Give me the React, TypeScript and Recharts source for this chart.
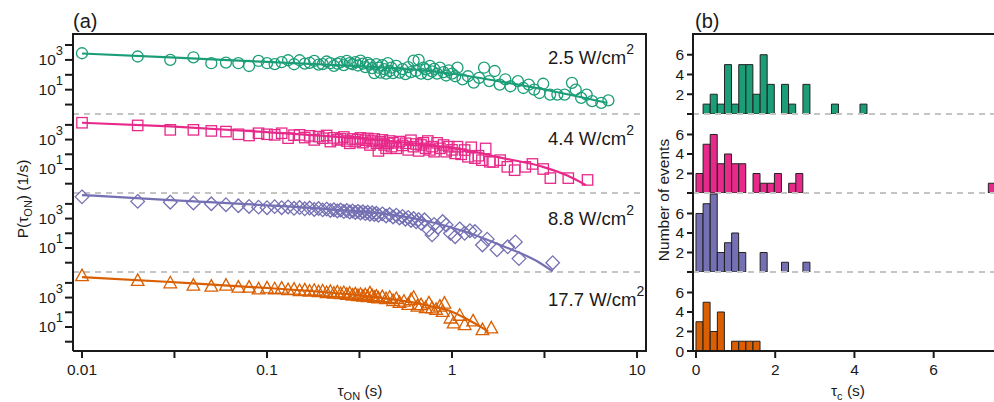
import React from "react";
import {
  ComposedChart,
  Scatter,
  Line,
  Bar,
  XAxis,
  YAxis,
  ReferenceLine,
} from "recharts";

const FONT = "'Liberation Sans', Arial, Helvetica, sans-serif";
const INK = "#1a1a1a";
const DASH = "#c4c4c4";

const COLORS = ["#1b9e77", "#e7298a", "#7570b3", "#d95f02"];
const POWERS = ["2.5", "4.4", "8.8", "17.7"];

// (a) ON-time distributions: [tau_on (s), P (1/s)]
const ON_25: [number, number][] = [
  [0.01, 2800], [0.02, 1700], [0.03, 1000], [0.04, 1500], [0.05, 600], [0.06, 660], [0.07, 600],
  [0.08, 390], [0.09, 850], [0.1, 600], [0.11, 520], [0.12, 700], [0.13, 950], [0.14, 510],
  [0.15, 950], [0.16, 560], [0.17, 640], [0.18, 850], [0.19, 480], [0.2, 520], [0.21, 780],
  [0.22, 600], [0.23, 400], [0.24, 560], [0.25, 700], [0.26, 450], [0.27, 860], [0.28, 600],
  [0.29, 510], [0.3, 700], [0.31, 420], [0.32, 900], [0.33, 560], [0.34, 330], [0.35, 640],
  [0.36, 480], [0.37, 280], [0.38, 130], [0.39, 520], [0.4, 300], [0.41, 140], [0.42, 440],
  [0.43, 240], [0.44, 120], [0.45, 600], [0.46, 180], [0.47, 300], [0.48, 130], [0.5, 400],
  [0.52, 140], [0.54, 240], [0.56, 110], [0.58, 330], [0.6, 150], [0.62, 900], [0.64, 180],
  [0.66, 1000], [0.68, 120], [0.7, 300], [0.72, 230], [0.74, 110], [0.76, 400], [0.78, 170],
  [0.8, 250], [0.83, 120], [0.86, 300], [0.9, 150], [0.93, 90], [0.96, 200], [1.0, 120],
  [1.04, 80], [1.07, 300], [1.14, 50], [1.22, 80], [1.31, 30], [1.4, 62], [1.49, 300],
  [1.59, 38], [1.7, 180], [1.81, 22], [1.94, 50], [2.07, 17], [2.27, 38], [2.43, 13],
  [2.6, 22], [2.78, 10], [2.97, 6], [3.11, 25], [3.39, 4.7], [3.71, 4.7], [4.06, 4.7],
  [4.45, 29], [4.66, 10], [4.99, 2.8], [5.34, 4.7], [5.72, 1.7], [6.41, 1.3], [7.0, 1.9],
];
const FIT_25: [number, number][] = [
  [0.01, 2700], [0.03, 1500], [0.1, 730], [0.3, 390], [0.6, 230], [1.0, 118], [2.0, 29],
  [3.0, 11.5], [5.0, 3.1], [6.9, 1.3],
];

const ON_44: [number, number][] = [
  [0.01, 14000], [0.02, 9200], [0.03, 4600], [0.04, 4600], [0.05, 3900], [0.06, 3500],
  [0.07, 2300], [0.08, 1900], [0.09, 2700], [0.1, 2300], [0.11, 2100], [0.12, 2700],
  [0.13, 1250], [0.14, 2000], [0.15, 2100], [0.16, 1370], [0.17, 1800], [0.18, 950],
  [0.19, 1600], [0.2, 1240], [0.21, 1900], [0.22, 730], [0.23, 1300], [0.24, 950],
  [0.25, 1110], [0.26, 1500], [0.27, 800], [0.28, 560], [0.29, 1100], [0.3, 730],
  [0.31, 1000], [0.32, 1300], [0.33, 620], [0.34, 900], [0.35, 1200], [0.36, 430],
  [0.37, 800], [0.38, 1100], [0.39, 560], [0.4, 170], [0.41, 700], [0.42, 950], [0.43, 430],
  [0.44, 255], [0.45, 560], [0.46, 800], [0.47, 330], [0.48, 600], [0.5, 255], [0.52, 730],
  [0.54, 400], [0.56, 560], [0.58, 200], [0.6, 900], [0.62, 330], [0.64, 500], [0.66, 170],
  [0.68, 430], [0.7, 600], [0.72, 255], [0.74, 800], [0.76, 200], [0.78, 330], [0.8, 150],
  [0.83, 600], [0.86, 255], [0.9, 430], [0.93, 150], [0.96, 330], [1.0, 200], [1.04, 115],
  [1.07, 330], [1.12, 100], [1.17, 195], [1.22, 68], [1.27, 300], [1.33, 55], [1.39, 80],
  [1.45, 40], [1.52, 250], [1.6, 31], [1.67, 30], [1.82, 40], [1.99, 14], [2.18, 8.3],
  [2.49, 14], [2.72, 22], [3.11, 10], [3.4, 2.4], [4.25, 2.4], [5.4, 1.8],
];
const FIT_44: [number, number][] = [
  [0.01, 14000], [0.03, 7800], [0.1, 3200], [0.3, 1250], [0.75, 430], [1.3, 160], [1.8, 62],
  [3.1, 14], [4.2, 3.6], [5.3, 0.8],
];

const ON_88: [number, number][] = [
  [0.01, 30000], [0.02, 14800], [0.03, 13000], [0.04, 11500], [0.05, 10200], [0.06, 8800],
  [0.07, 7500], [0.08, 6700], [0.09, 6000], [0.1, 5500], [0.11, 6500], [0.12, 5500],
  [0.13, 6200], [0.14, 5000], [0.15, 5600], [0.16, 4600], [0.17, 5200], [0.18, 4200],
  [0.19, 4800], [0.2, 3900], [0.21, 4400], [0.22, 3600], [0.23, 4000], [0.24, 3300],
  [0.25, 3800], [0.26, 3000], [0.27, 3500], [0.28, 2800], [0.29, 3300], [0.3, 2600],
  [0.31, 3100], [0.32, 2400], [0.33, 2900], [0.34, 2200], [0.35, 2700], [0.36, 2000],
  [0.37, 2500], [0.38, 1900], [0.39, 2300], [0.4, 1700], [0.42, 2100], [0.44, 1500],
  [0.46, 1900], [0.48, 1300], [0.5, 1700], [0.52, 1100], [0.54, 1400], [0.56, 900],
  [0.58, 1200], [0.6, 750], [0.62, 1000], [0.64, 600], [0.66, 850], [0.68, 480], [0.71, 830],
  [0.75, 170], [0.78, 78], [0.8, 400], [0.84, 250], [0.89, 630], [0.93, 370], [0.98, 100],
  [1.04, 59], [1.1, 200], [1.17, 100], [1.25, 150], [1.33, 131], [1.46, 16], [1.55, 40],
  [1.75, 7.5], [2.0, 12], [2.2, 26], [2.3, 1.9], [3.5, 1.0],
];
const FIT_88: [number, number][] = [
  [0.01, 40000], [0.03, 18000], [0.1, 8000], [0.3, 3100], [0.48, 1800], [0.75, 630],
  [1.17, 131], [1.82, 16], [2.9, 1.2], [3.5, 0.26],
];

const ON_177: [number, number][] = [
  [0.01, 30000], [0.02, 14000], [0.03, 9700], [0.04, 6700], [0.05, 5800], [0.06, 6700],
  [0.07, 4900], [0.08, 4900], [0.09, 3700], [0.1, 4400], [0.11, 3800], [0.12, 4200],
  [0.13, 3300], [0.14, 3600], [0.15, 2900], [0.16, 3200], [0.17, 2600], [0.18, 3000],
  [0.19, 2400], [0.2, 2700], [0.21, 2100], [0.22, 2500], [0.23, 1900], [0.24, 2300],
  [0.25, 1800], [0.26, 2100], [0.27, 1600], [0.28, 1900], [0.29, 1400], [0.3, 1700],
  [0.31, 1300], [0.32, 1600], [0.33, 1200], [0.34, 1500], [0.35, 1100], [0.36, 2000],
  [0.37, 1300], [0.38, 1000], [0.39, 1200], [0.4, 900], [0.42, 1100], [0.44, 800],
  [0.46, 1000], [0.48, 600], [0.5, 830], [0.52, 450], [0.55, 540], [0.58, 330], [0.6, 700],
  [0.62, 1000], [0.65, 250], [0.68, 320], [0.72, 200], [0.75, 420], [0.78, 190], [0.82, 150],
  [0.86, 250], [0.89, 110], [0.91, 400], [0.98, 39], [1.02, 18], [1.1, 60], [1.17, 14],
  [1.3, 25], [1.46, 6.3], [1.63, 8.3],
];
const FIT_177: [number, number][] = [
  [0.01, 25000], [0.03, 11500], [0.1, 4500], [0.3, 1520], [0.5, 700], [0.75, 280],
  [1.0, 110], [1.2, 35], [1.4, 12], [1.57, 4.9],
];

const ON_DATA = [ON_25, ON_44, ON_88, ON_177];
const FIT_DATA = [FIT_25, FIT_44, FIT_88, FIT_177];

const TAU_DOMAIN: [number, number] = [0.00894, 11.18];
const TAU_TICKS = [0.01, 0.0316, 0.1, 0.316, 1, 3.16, 10];
const TAU_LABELS: Record<string, string> = { "0.01": "0.01", "0.1": "0.1", "1": "1", "10": "10" };
const P_DOMAIN: [number, number] = [0.233, 55000];
const P_TICKS = [1, 10, 100, 1000, 10000];

// (b) histograms of tau_c, 0.18 s bins starting at 0
const BIN = 0.18;
const NBINS = 42;
const HIST_25 = [0, 1, 2, 1, 5, 1, 5, 5, 2, 6, 3, 0, 3, 1, 0, 3, 0, 0, 0, 1, 0, 0, 0, 1];
const HIST_44 = [
  2, 5, 6, 3, 4, 3, 3, 0, 2, 1, 1, 2, 0, 1, 2, 0, 0, 0, 0, 0, 0, 0, 0, 0, 0, 0, 0, 0, 0, 0,
  0, 0, 0, 0, 0, 0, 0, 0, 0, 0, 0, 1,
];
const HIST_88 = [6, 7, 8, 2, 3, 4, 2, 0, 0, 2, 0, 0, 1, 0, 0, 1];
const HIST_177 = [3, 5, 2, 4, 0, 1, 1, 1, 1];
const HISTS = [HIST_25, HIST_44, HIST_88, HIST_177];
const TC_DOMAIN: [number, number] = [-0.075, 7.75];
const TC_TICKS = [0, 2, 4, 6];
const N_TICKS = [0, 2, 4, 6];

const BAND_TOPS = [34, 114, 193, 272];
const BAND_BOTTOM = 351;
const PAD = 8;

const axisStyle = { stroke: INK, strokeWidth: 2 };

function PowTick(props: any) {
  const { x, y, payload } = props;
  const e = Math.round(Math.log10(payload.value));
  if (e !== 1 && e !== 3) return <g />;
  return (
    <text x={x} y={y + 5.5} textAnchor="end" fontSize={15.5} fill={INK}>
      10
      <tspan dy={-10.5} fontSize={13}>
        {e}
      </tspan>
    </text>
  );
}

function marker(i: number, color: string) {
  return (p: any) => {
    const { cx, cy } = p;
    const sw = 1.3;
    if (i === 0) return <circle cx={cx} cy={cy} r={5.5} fill="none" stroke={color} strokeWidth={sw} />;
    if (i === 1)
      return <rect x={cx - 5.2} y={cy - 5.2} width={10.4} height={10.4} fill="none" stroke={color} strokeWidth={sw} />;
    if (i === 2)
      return (
        <path
          d={`M${cx},${cy - 6.8}L${cx + 6.8},${cy}L${cx},${cy + 6.8}L${cx - 6.8},${cy}Z`}
          fill="none"
          stroke={color}
          strokeWidth={sw}
        />
      );
    return (
      <path
        d={`M${cx},${cy - 6.8}L${cx + 6.3},${cy + 4.7}L${cx - 6.3},${cy + 4.7}Z`}
        fill="none"
        stroke={color}
        strokeWidth={sw}
      />
    );
  };
}

function OnBand({ i }: { i: number }) {
  const last = i === 3;
  const top = BAND_TOPS[i];
  const h = (last ? BAND_BOTTOM : BAND_TOPS[i + 1]) - top;
  const color = COLORS[i];
  const pts = ON_DATA[i].map(([t, p]) => ({ t, p }));
  const fit = FIT_DATA[i].map(([t, p]) => ({ t, p }));
  return (
    <div style={{ position: "absolute", left: 0, top: top - PAD }}>
      <ComposedChart
        width={660}
        height={h + PAD + (last ? 32 : PAD)}
        margin={{ top: PAD, right: 14, bottom: last ? 0 : PAD, left: 0 }}
      >
        <XAxis
          dataKey="t"
          type="number"
          scale="log"
          domain={TAU_DOMAIN}
          ticks={TAU_TICKS}
          interval={0}
          hide={!last}
          height={32}
          tickSize={7}
          tickMargin={6}
          axisLine={axisStyle}
          tickLine={axisStyle}
          tick={{ fill: INK, fontSize: 15.5 }}
          tickFormatter={(v: number) => TAU_LABELS[String(v)] ?? ""}
        />
        <YAxis
          dataKey="p"
          type="number"
          scale="log"
          domain={P_DOMAIN}
          ticks={P_TICKS}
          interval={0}
          width={73}
          tickSize={8}
          tickMargin={2}
          axisLine={axisStyle}
          tickLine={axisStyle}
          tick={(p: any) => <PowTick {...p} />}
        />
        {!last && (
          <ReferenceLine y={P_DOMAIN[0]} stroke={DASH} strokeWidth={2} strokeDasharray="6 5" />
        )}
        <Scatter data={pts} shape={marker(i, color)} isAnimationActive={false} />
        <Line
          data={fit}
          dataKey="p"
          type="monotone"
          stroke={color}
          strokeWidth={2.2}
          dot={false}
          activeDot={false}
          isAnimationActive={false}
        />
      </ComposedChart>
    </div>
  );
}

function HistBand({ i }: { i: number }) {
  const last = i === 3;
  const top = BAND_TOPS[i];
  const h = (last ? BAND_BOTTOM : BAND_TOPS[i + 1]) - top;
  const counts = HISTS[i];
  const data = Array.from({ length: NBINS }, (_, k) => ({ x: (k + 0.5) * BIN, n: counts[k] ?? 0 }));
  return (
    <div style={{ position: "absolute", left: 640, top: top - PAD }}>
      <ComposedChart
        width={363}
        height={h + PAD + (last ? 32 : PAD)}
        data={data}
        margin={{ top: PAD, right: 0, bottom: last ? 0 : PAD, left: 0 }}
        barCategoryGap={0}
        barGap={0}
      >
        <XAxis
          dataKey="x"
          type="number"
          domain={TC_DOMAIN}
          allowDataOverflow
          ticks={TC_TICKS}
          interval={0}
          hide={!last}
          height={32}
          tickSize={7}
          tickMargin={6}
          axisLine={axisStyle}
          tickLine={axisStyle}
          tick={{ fill: INK, fontSize: 15.5 }}
        />
        <YAxis
          type="number"
          domain={[0, 8.1]}
          allowDataOverflow
          ticks={N_TICKS}
          interval={0}
          width={53}
          tickSize={6}
          tickMargin={3}
          axisLine={axisStyle}
          tickLine={axisStyle}
          tick={{ fill: INK, fontSize: 15.5 }}
          tickFormatter={(v: number) => (v === 0 && !last ? "" : String(v))}
        />
        {!last && <ReferenceLine y={0} stroke={DASH} strokeWidth={2} strokeDasharray="6 5" />}
        <Bar
          dataKey="n"
          fill={COLORS[i]}
          stroke="#222"
          strokeWidth={1}
          barSize={7}
          isAnimationActive={false}
        />
      </ComposedChart>
    </div>
  );
}

const POWER_Y = [63.5, 145, 225, 306];

export default function App() {
  return (
    <div
      style={{
        position: "absolute",
        left: 0,
        top: 0,
        width: 994,
        height: 402,
        overflow: "hidden",
        background: "#fff",
        fontFamily: FONT,
        color: INK,
      }}
    >
      {[0, 1, 2, 3].map((i) => (
        <OnBand key={"a" + i} i={i} />
      ))}
      {[0, 1, 2, 3].map((i) => (
        <HistBand key={"b" + i} i={i} />
      ))}
      <svg
        width={994}
        height={402}
        style={{ position: "absolute", left: 0, top: 0, pointerEvents: "none" }}
        fontFamily={FONT}
      >
        <line x1={72} y1={34} x2={647} y2={34} stroke={INK} strokeWidth={2} />
        <line x1={646} y1={34} x2={646} y2={352} stroke={INK} strokeWidth={2} />
        <line x1={692} y1={34} x2={994} y2={34} stroke={INK} strokeWidth={2} />

        <text x={73} y={28} fontSize={20} fill={INK}>(a)</text>
        <text x={695} y={28} fontSize={20} fill={INK}>(b)</text>

        {POWERS.map((p, i) => (
          <text key={p} x={548} y={POWER_Y[i]} fontSize={18.5} fill={INK}>
            {p} W/cm
            <tspan dy={-10} fontSize={14}>2</tspan>
          </text>
        ))}

        <text x={28} y={199} fontSize={15.5} fill={INK} textAnchor="middle" transform="rotate(-90 28 199)">
          P(τ<tspan dy={4} fontSize={11}>ON</tspan>
          <tspan dy={-4}>) (1/s)</tspan>
        </text>
        <text x={360} y={396} fontSize={15.5} fill={INK} textAnchor="middle">
          τ<tspan dy={4} fontSize={11}>ON</tspan>
          <tspan dy={-4}> (s)</tspan>
        </text>

        <text x={669} y={200} fontSize={15.5} fill={INK} textAnchor="middle" transform="rotate(-90 669 200)">
          Number of events
        </text>
        <text x={848} y={396} fontSize={15.5} fill={INK} textAnchor="middle">
          τ<tspan dy={4} fontSize={11}>c</tspan>
          <tspan dy={-4}> (s)</tspan>
        </text>
      </svg>
    </div>
  );
}
